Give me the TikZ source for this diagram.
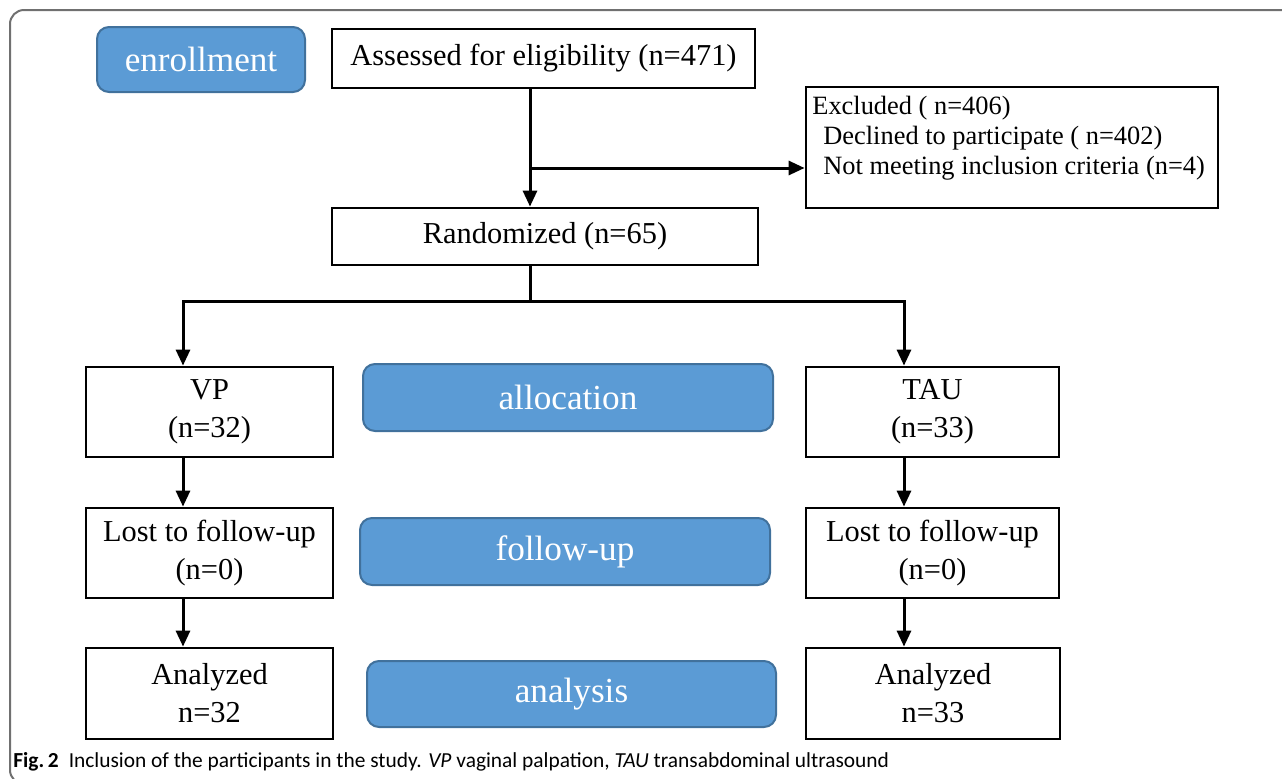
\documentclass[tikz,border=0pt]{standalone}
\usepackage{fontspec}
\setmainfont{Liberation Serif}
\newfontfamily\capfont{Carlito}
\usetikzlibrary{arrows.meta}
\definecolor{bluefill}{HTML}{5B9BD5}
\definecolor{blueedge}{HTML}{41719C}
\definecolor{framegray}{HTML}{707070}
\begin{document}
\begin{tikzpicture}[x=0.5pt,y=-0.5pt,
  wbox/.style={draw=black,line width=1.4pt,fill=white,rectangle,inner sep=0pt,align=center,
    font=\fontsize{15.2}{19}\selectfont},
  bbox/.style={draw=blueedge,line width=1pt,fill=bluefill,rectangle,rounded corners=6pt,inner sep=0pt,
    text=white,font=\fontsize{17.6}{21}\selectfont},
  conn/.style={line width=1.5pt,draw=black},
  arr/.style={conn,-{Triangle[width=7pt,length=8pt]}}
]
\useasboundingbox (0,0) rectangle (1282,778);
\clip (0,0) rectangle (1282,778);
% outer frame
\draw[framegray,line width=1pt,rounded corners=7pt] (10,10) rectangle (1300,784);

% nodes
\node[bbox,minimum width=104pt,minimum height=32.5pt] (enroll) at (201,59.5) {enrollment};
\node[wbox,minimum width=211.5pt,minimum height=29.5pt] (assess) at (543.5,58.5) {Assessed for eligibility (n=471)};
\node[wbox,minimum width=206pt,minimum height=60.5pt] (excl) at (1012,147.5) {};
\node[anchor=north west,align=left,inner sep=0pt,font=\fontsize{13.2}{15}\selectfont] (exclt) at (812,96)
  {Excluded ( n=406)\\\hspace*{5.5pt}Declined to participate ( n=402)\\\hspace*{5.5pt}Not meeting inclusion criteria (n=4)};
\node[wbox,minimum width=213pt,minimum height=28.5pt] (rand) at (545,236.5) {Randomized (n=65)};

\node[wbox,minimum width=123.5pt,minimum height=45pt] (vp) at (209.5,412) {VP\\(n=32)};
\node[wbox,minimum width=126.5pt,minimum height=45pt] (tau) at (932.5,412) {TAU\\(n=33)};
\node[bbox,minimum width=205pt,minimum height=33.5pt] (alloc) at (568,397.5) {allocation};

\node[wbox,minimum width=123.5pt,minimum height=45pt] (lostl) at (209.5,553) {Lost to follow-up\\(n=0)};
\node[wbox,minimum width=126.5pt,minimum height=45pt] (lostr) at (932.5,553) {Lost to follow-up\\(n=0)};
\node[bbox,minimum width=205pt,minimum height=33.5pt] (follow) at (565,551.5) {follow-up};

\node[wbox,minimum width=123.5pt,minimum height=45.5pt] (anl) at (209.5,693.5) {Analyzed\\n=32};
\node[wbox,minimum width=127pt,minimum height=45.5pt] (anr) at (933,693.5) {Analyzed\\n=33};
\node[bbox,minimum width=204.5pt,minimum height=33pt] (analysis) at (571.5,694) {analysis};

% helper coordinates
\coordinate (cm) at (530,0);
\coordinate (cl) at (183,0);
\coordinate (cr) at (904,0);
\coordinate (exy) at (0,168);
\coordinate (spl) at (0,301);

% connectors
\draw[arr] (assess.south -| cm) -- (rand.north -| cm);
\draw[arr] (cm |- exy) -- (excl.west |- exy);
\draw[conn] (rand.south -| cm) -- (cm |- spl);
\draw[arr] (cm |- spl) -| (vp.north -| cl);
\draw[arr] (cm |- spl) -| (tau.north -| cr);
\draw[arr] (vp.south -| cl) -- (lostl.north -| cl);
\draw[arr] (lostl.south -| cl) -- (anl.north -| cl);
\draw[arr] (tau.south -| cr) -- (lostr.north -| cr);
\draw[arr] (lostr.south -| cr) -- (anr.north -| cr);

% caption
\node[anchor=base west,inner sep=0pt,font=\capfont\fontsize{10.7}{12}\selectfont] (cap) at (13,767)
  {\textbf{Fig.\,2}\hspace{5pt}Inclusion of the participants in the study. \textit{VP} vaginal palpation, \textit{TAU} transabdominal ultrasound};
\end{tikzpicture}
\end{document}
